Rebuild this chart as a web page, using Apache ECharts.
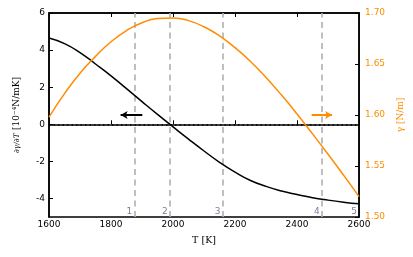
<!DOCTYPE html>
<html>
<head>
<meta charset="utf-8">
<script src="https://cdn.jsdelivr.net/npm/echarts@6/dist/echarts.min.js"></script>
<style>html,body{margin:0;padding:0;background:#fff}#c{width:413px;height:257px}</style>
</head>
<body>
<div id="c"></div>
<script>
// ---- data ----
const temps = [1600,1650,1700,1750,1800,1850,1900,1950,2000,2050,2100,2150,2200,2250,2300,2350,2400,2450,2500,2550,2600];
const dGammaDT = [4.65,4.35,3.87,3.25,2.61,1.92,1.22,0.53,-0.14,-0.80,-1.44,-2.05,-2.58,-3.03,-3.35,-3.60,-3.79,-3.96,-4.09,-4.20,-4.29];
const gamma = [1.598,1.621,1.641,1.6575,1.6718,1.6828,1.6905,1.6945,1.6952,1.6925,1.6865,1.6775,1.666,1.6525,1.6368,1.6195,1.601,1.5815,1.5615,1.541,1.520];
const markerTemps = [1875,1990,2160,2480,2600];
const markerLabels = ['1','2','3','4','5'];
const leftTicks = [-4,-2,0,2,4,6];
const leftArrow = [[1901,0.5],[1831,0.5]];
const rightArrow = [[2447,0.5],[2513,0.5]];

const ORANGE = '#ff8c00';
const sans = 'DejaVu Sans';
const serif = 'DejaVu Serif';

const chart = echarts.init(document.getElementById('c'), null, {renderer:'canvas'});
const blackData = temps.map((t,i)=>[t,dGammaDT[i]]);
const orangeData = temps.map((t,i)=>[t,gamma[i]]);
const markerData = markerTemps.map((t,i)=>[t,-5,markerLabels[i]]);

chart.setOption({
  animation:false,
  backgroundColor:'#fff',
  grid:{left:49,right:53,top:13,bottom:40,show:true,borderColor:'#000',borderWidth:1.5,backgroundColor:'transparent'},
  xAxis:[{
    type:'value',min:1600,max:2600,interval:200,
    name:'T [K]',nameLocation:'middle',nameGap:19,
    nameTextStyle:{fontFamily:serif,fontSize:9.5,color:'#000'},
    axisLine:{show:true,lineStyle:{color:'#000',width:1.5}},
    axisTick:{show:true,inside:true,length:4,lineStyle:{color:'#000',width:1}},
    axisLabel:{fontFamily:sans,fontSize:9,color:'#000',margin:3,formatter:v=>String(v)},
    splitLine:{show:false}
  },{
    type:'value',min:1600,max:2600,interval:200,position:'top',
    axisLine:{show:true,lineStyle:{color:'#000',width:1.5}},
    axisTick:{show:true,inside:true,length:4,lineStyle:{color:'#000',width:1}},
    axisLabel:{show:false},splitLine:{show:false}
  }],
  yAxis:[{
    type:'value',min:-5,max:6,position:'left',
    name:'{a|∂γ/∂T} {b|[10⁻⁴N/mK]}',nameLocation:'middle',nameGap:26,
    nameTextStyle:{rich:{
      a:{fontFamily:serif,fontStyle:'italic',fontSize:7.5,color:'#000'},
      b:{fontFamily:serif,fontSize:9,color:'#000'}
    }},
    axisLine:{show:true,lineStyle:{color:'#000',width:1.5}},
    axisTick:{show:true,inside:true,length:4,customValues:leftTicks,lineStyle:{color:'#000',width:1}},
    axisLabel:{fontFamily:sans,fontSize:9,color:'#000',margin:4,customValues:leftTicks},
    splitLine:{show:false}
  },{
    type:'value',min:1.5,max:1.7,interval:0.05,position:'right',
    name:'γ [N/m]',nameLocation:'middle',nameGap:28,nameRotate:90,
    nameTextStyle:{fontFamily:serif,fontSize:9,color:ORANGE},
    axisLine:{show:true,lineStyle:{color:'#000',width:1.5}},
    axisTick:{show:true,inside:true,length:4,lineStyle:{color:'#000',width:1}},
    axisLabel:{fontFamily:sans,fontSize:9,color:ORANGE,margin:6,formatter:v=>v.toFixed(2)},
    splitLine:{show:false}
  }],
  series:[{
    type:'line',name:'dgamma',xAxisIndex:0,yAxisIndex:0,data:blackData,smooth:0.5,
    symbol:'none',lineStyle:{color:'#000',width:1.5},z:5,
    markLine:{
      silent:true,symbol:'none',label:{show:false},animation:false,
      data:[
        {yAxis:0,lineStyle:{color:'#000',width:1.5,type:[1.5,3]}},
        ...markerTemps.slice(0,4).map(t=>({xAxis:t,lineStyle:{color:'#b0b0b0',width:1.6,type:[6,4.5]}}))
      ]
    }
  },{
    type:'line',name:'gamma',xAxisIndex:0,yAxisIndex:1,data:orangeData,smooth:0.5,
    symbol:'none',lineStyle:{color:ORANGE,width:1.5},z:6
  },{
    type:'line',name:'arrows',xAxisIndex:0,yAxisIndex:0,data:[],
    markLine:{
      silent:true,animation:false,label:{show:false},symbol:['none','arrow'],symbolSize:[6,7],
      data:[
        [{coord:leftArrow[0],lineStyle:{color:'#000',width:2,type:'solid'}},{coord:leftArrow[1]}],
        [{coord:rightArrow[0],lineStyle:{color:ORANGE,width:2,type:'solid'}},{coord:rightArrow[1]}]
      ]
    }
  },{
    type:'scatter',xAxisIndex:0,yAxisIndex:0,data:markerData,symbolSize:0,silent:true,z:7,
    label:{show:true,position:'top',distance:1,offset:[-5,0],formatter:p=>p.value[2],
      fontFamily:sans,fontSize:9,color:'#5c5c80'}
  }]
});
</script>
</body>
</html>
